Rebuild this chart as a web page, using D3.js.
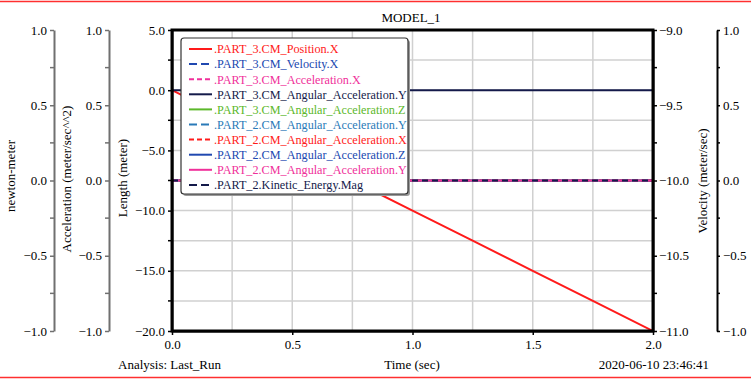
<!DOCTYPE html>
<html><head><meta charset="utf-8">
<script src="https://cdn.jsdelivr.net/npm/d3@7"></script>
<style>body{margin:0;background:#fff}</style>
</head><body><svg id="c" width="751" height="379" font-family="Liberation Serif"></svg>
<script>
const title = "MODEL_1";
const time = [0, 0.25, 0.5, 0.75, 1.0, 1.25, 1.5, 1.75, 2.0];
const positionX = [0, -2.5, -5, -7.5, -10, -12.5, -15, -17.5, -20];
const velocityX = [-10, -10, -10, -10, -10, -10, -10, -10, -10];
const accelX = [0, 0, 0, 0, 0, 0, 0, 0, 0];
const angAccel = [0, 0, 0, 0, 0, 0, 0, 0, 0];
const kinetic = [0, 0, 0, 0, 0, 0, 0, 0, 0];
const xTicks = [0, 0.5, 1.0, 1.5, 2.0];
const lengthTicks = [5, 0, -5, -10, -15, -20];
const velTicks = [-9, -9.5, -10, -10.5, -11];
const unitTicks = [1, 0.5, 0, -0.5, -1];

const series = [
  {name: ".PART_3.CM_Position.X", vals: positionX, axis: "len", color: "#ff1a1a", dash: null, ldash: null},
  {name: ".PART_3.CM_Velocity.X", vals: velocityX, axis: "vel", color: "#2048b0", dash: "6,4", ldash: "8,4"},
  {name: ".PART_3.CM_Acceleration.X", vals: accelX, axis: "acc", color: "#f0309a", dash: "4,3", ldash: "5,3"},
  {name: ".PART_3.CM_Angular_Acceleration.Y", vals: angAccel, axis: "len", color: "#141a4a", dash: null, ldash: null},
  {name: ".PART_3.CM_Angular_Acceleration.Z", vals: angAccel, axis: "acc", color: "#5cb82a", dash: null, ldash: null},
  {name: ".PART_2.CM_Angular_Acceleration.Y", vals: angAccel, axis: "acc", color: "#2a7ab8", dash: "6,4", ldash: "8,4"},
  {name: ".PART_2.CM_Angular_Acceleration.X", vals: angAccel, axis: "acc", color: "#ff1a1a", dash: "4,3", ldash: "5,3"},
  {name: ".PART_2.CM_Angular_Acceleration.Z", vals: angAccel, axis: "acc", color: "#2048b0", dash: null, ldash: null},
  {name: ".PART_2.CM_Angular_Acceleration.Y", vals: angAccel, axis: "acc", color: "#f0309a", dash: null, ldash: null},
  {name: ".PART_2.Kinetic_Energy.Mag", vals: kinetic, axis: "nm", color: "#141a4a", dash: "6,4", ldash: "8,4"}
];

const FONT = "Liberation Serif";
const FS = 13;
const svg = d3.select("#c");
const L = 172, R = 653, T = 30, B = 331;
const x = d3.scaleLinear().domain([0, 2]).range([L, R]);
const yLen = d3.scaleLinear().domain([-20, 5]).range([B, T]);
const yVel = d3.scaleLinear().domain([-11, -9]).range([B, T]);
const yAcc = d3.scaleLinear().domain([-1, 1]).range([B, T]);
const yNm = d3.scaleLinear().domain([-1, 1]).range([B, T]);
const scales = {len: yLen, vel: yVel, acc: yAcc, nm: yNm};

svg.append("line").attr("x1", 0).attr("x2", 751).attr("y1", 1.5).attr("y2", 1.5).attr("stroke", "#ff3030").attr("stroke-width", 1.5);
svg.append("line").attr("x1", 0).attr("x2", 751).attr("y1", 377.5).attr("y2", 377.5).attr("stroke", "#ff3030").attr("stroke-width", 1.5);

const g = svg.append("g");
g.selectAll(".vg").data(d3.range(0.25, 2, 0.25)).join("line")
  .attr("x1", d => x(d)).attr("x2", d => x(d)).attr("y1", T).attr("y2", B)
  .attr("stroke", "#d0d0d0").attr("stroke-width", 1.5);
g.selectAll(".hg").data(d3.range(-17.5, 5, 2.5)).join("line")
  .attr("x1", L).attr("x2", R).attr("y1", d => yLen(d)).attr("y2", d => yLen(d))
  .attr("stroke", "#d0d0d0").attr("stroke-width", 1.5);

svg.append("clipPath").attr("id", "pc").append("rect").attr("x", L - 3).attr("y", T).attr("width", R - L + 3).attr("height", B - T);
series.forEach(s => {
  const ys = scales[s.axis];
  const line = d3.line().x((d, i) => x(time[i])).y(d => ys(d));
  svg.append("path").datum(s.vals).attr("d", line).attr("fill", "none")
    .attr("stroke", s.color).attr("stroke-width", 2)
    .attr("stroke-dasharray", s.dash).attr("clip-path", "url(#pc)");
});

const fmt = d3.format(".1f");
function styleAxis(sel, color) {
  sel.attr("font-family", FONT).attr("font-size", FS);
  sel.selectAll("text").attr("font-family", FONT).attr("font-size", FS).attr("fill", "#000");
  sel.select(".domain").attr("stroke", color).attr("stroke-width", 2);
  sel.selectAll(".tick line").attr("stroke", color).attr("stroke-width", 1.5);
}
function minor(sel, scale, vals, len, color) {
  sel.selectAll(".mt").data(vals).join("line")
    .attr("x1", 0).attr("x2", len).attr("y1", d => scale(d)).attr("y2", d => scale(d))
    .attr("stroke", color).attr("stroke-width", 1.5);
}
const fmtM = d => fmt(d).replace("-", "\u2212");

const aNm = svg.append("g").attr("transform", "translate(54,0)")
  .call(d3.axisLeft(yNm).tickValues(unitTicks).tickFormat(fmtM).tickSize(4).tickSizeOuter(0).tickPadding(3));
styleAxis(aNm, "#707070");
minor(aNm, yNm, [0.75, 0.25, -0.25, -0.75], -4, "#707070");
const aAcc = svg.append("g").attr("transform", "translate(109,0)")
  .call(d3.axisLeft(yAcc).tickValues(unitTicks).tickFormat(fmtM).tickSize(4).tickSizeOuter(0).tickPadding(3));
styleAxis(aAcc, "#707070");
minor(aAcc, yAcc, [0.75, 0.25, -0.25, -0.75], -4, "#707070");
const aLen = svg.append("g").attr("transform", `translate(${L},0)`)
  .call(d3.axisLeft(yLen).tickValues(lengthTicks).tickFormat(fmtM).tickSize(4).tickSizeOuter(0).tickPadding(3));
styleAxis(aLen, "#000");
minor(aLen, yLen, [2.5, -2.5, -7.5, -12.5, -17.5], -4, "#000");
const aVel = svg.append("g").attr("transform", `translate(${R},0)`)
  .call(d3.axisRight(yVel).tickValues(velTicks).tickFormat(fmtM).tickSize(4).tickSizeOuter(0).tickPadding(2));
styleAxis(aVel, "#000");
minor(aVel, yVel, [-9.25, -9.75, -10.25, -10.75], 4, "#000");
const aR = svg.append("g").attr("transform", "translate(717,0)")
  .call(d3.axisRight(yNm).tickValues(unitTicks).tickFormat(fmtM).tickSize(3).tickSizeOuter(0).tickPadding(3));
styleAxis(aR, "#000");
minor(aR, yNm, [0.75, 0.25, -0.25, -0.75], 3, "#000");
const aX = svg.append("g").attr("transform", `translate(0,${B})`)
  .call(d3.axisBottom(x).tickValues(xTicks).tickFormat(fmt).tickSize(4).tickSizeOuter(0).tickPadding(5));
styleAxis(aX, "#000");

svg.append("rect").attr("x", L).attr("y", T).attr("width", R - L).attr("height", B - T)
  .attr("fill", "none").attr("stroke", "#000").attr("stroke-width", 3);

const txt = (t, xx, yy, anchor, rot) => {
  const e = svg.append("text").text(t).attr("font-family", FONT).attr("font-size", FS)
    .attr("text-anchor", anchor || "middle").attr("fill", "#000");
  if (rot) e.attr("transform", `translate(${xx},${yy}) rotate(-90)`); else e.attr("x", xx).attr("y", yy);
  return e;
};
txt(title, 411, 22);
txt("Time (sec)", 412, 369);
txt("Analysis: Last_Run", 118, 369, "start");
txt("2020-06-10 23:46:41", 709, 369, "end");
txt("newton-meter", 15, 176, "middle", true);
txt("Acceleration (meter/sec^^2)", 71, 179, "middle", true);
txt("Length (meter)", 127, 178, "middle", true);
txt("Velocity (meter/sec)", 707, 181, "middle", true);

const lg = svg.append("g");
lg.append("rect").attr("x", 183).attr("y", 40).attr("width", 227).attr("height", 156).attr("rx", 3)
  .attr("fill", "#999");
lg.append("rect").attr("x", 181).attr("y", 38).attr("width", 227).attr("height", 156).attr("rx", 3)
  .attr("fill", "#fff").attr("stroke", "#333").attr("stroke-width", 1.2);
const rows = lg.selectAll(".row").data(series).join("g")
  .attr("transform", (d, i) => `translate(0,${49 + i * 15.1})`);
rows.append("line").attr("x1", 189).attr("x2", 212).attr("y1", 0).attr("y2", 0)
  .attr("stroke", d => d.color).attr("stroke-width", 2).attr("stroke-dasharray", d => d.ldash);
rows.append("text").attr("x", 214).attr("y", 4.3).attr("font-family", FONT).attr("font-size", 12.2)
  .attr("fill", d => d.color).text(d => d.name);
</script></body></html>
